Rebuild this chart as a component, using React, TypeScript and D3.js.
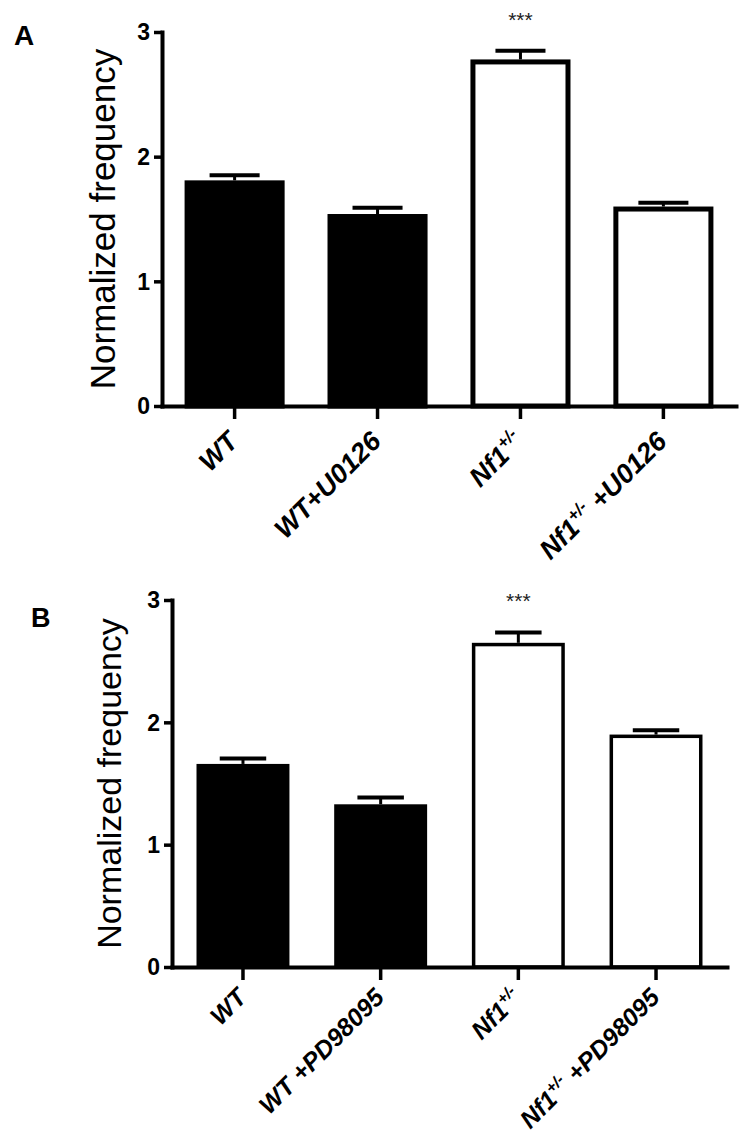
import React, { useEffect, useRef } from 'react'
import * as d3 from 'd3'

// panel A: U0126
const groupsA = ['WT', 'WT+U0126', 'Nf1+/-', 'Nf1+/- +U0126']
const meansA = [1.81, 1.54, 2.78, 1.60]
const semA = [0.04, 0.05, 0.07, 0.03]

// panel B: PD98095
const groupsB = ['WT', 'WT +PD98095', 'Nf1+/-', 'Nf1+/- +PD98095']
const meansB = [1.66, 1.33, 2.65, 1.90]
const semB = [0.045, 0.055, 0.085, 0.035]

const filled = [true, true, false, false]
const stars = ['', '', '***', '']
const yTicks = [0, 1, 2, 3]

const FONT = 'Arial, "Liberation Sans", Helvetica, sans-serif'

type Panel = {
  letter: string
  letterX: number
  letterY: number
  letterSize: number
  groups: string[]
  means: number[]
  sem: number[]
  left: number
  right: number
  top: number
  bottom: number
  padIn: number
  padOut: number
  outline: number
  titleX: number
  titleSize: number
  labelSize: number
  labelDy: number
}

function drawPanel(svg: any, p: Panel) {
  const g = svg.append('g')
  const x = d3.scaleBand().domain(p.groups).range([p.left, p.right]).paddingInner(p.padIn).paddingOuter(p.padOut)
  const y = d3.scaleLinear().domain([0, 3]).range([p.bottom, p.top])
  const bw = x.bandwidth()
  const rows = p.groups.map((k, i) => ({ k, v: p.means[i], e: p.sem[i], fill: filled[i], star: stars[i] }))

  // error bars (upper half only)
  const eb = g.selectAll('.eb').data(rows).enter().append('g')
  eb.append('line')
    .attr('x1', (d: any) => x(d.k)! + bw / 2)
    .attr('x2', (d: any) => x(d.k)! + bw / 2)
    .attr('y1', (d: any) => y(d.v))
    .attr('y2', (d: any) => y(d.v + d.e))
    .attr('stroke', '#000').attr('stroke-width', 3)
  eb.append('line')
    .attr('x1', (d: any) => x(d.k)! + bw / 4)
    .attr('x2', (d: any) => x(d.k)! + bw * 0.75)
    .attr('y1', (d: any) => y(d.v + d.e))
    .attr('y2', (d: any) => y(d.v + d.e))
    .attr('stroke', '#000').attr('stroke-width', 4)

  // bars, outer edge at value
  const sw = p.outline
  g.selectAll('.bar').data(rows).enter().append('rect')
    .attr('x', (d: any) => x(d.k)! + sw / 2)
    .attr('width', bw - sw)
    .attr('y', (d: any) => y(d.v) + sw / 2)
    .attr('height', (d: any) => y(0) - y(d.v) - sw / 2)
    .attr('fill', (d: any) => (d.fill ? '#000' : '#fff'))
    .attr('stroke', '#000')
    .attr('stroke-width', sw)

  // significance
  g.selectAll('.star').data(rows.filter(d => d.star)).enter().append('text')
    .attr('x', (d: any) => x(d.k)! + bw / 2)
    .attr('y', (d: any) => y(d.v + d.e) - 24)
    .attr('text-anchor', 'middle')
    .attr('font-family', FONT)
    .attr('font-size', 21)
    .attr('fill', '#222')
    .text((d: any) => d.star)

  // y axis
  const ya = g.append('g').attr('transform', `translate(${p.left},0)`)
    .call(d3.axisLeft(y).tickValues(yTicks).tickSize(8).tickSizeOuter(0).tickFormat(() => ''))
  ya.select('.domain').attr('stroke-width', 4).attr('stroke-linecap', 'square')
  ya.selectAll('.tick line').attr('stroke-width', 3.5)
  g.selectAll('.ytl').data(yTicks).enter().append('text')
    .attr('x', p.left - 12)
    .attr('y', (d: number) => y(d))
    .attr('dy', '0.36em')
    .attr('text-anchor', 'end')
    .attr('font-family', FONT)
    .attr('font-size', 23)
    .attr('font-weight', 'bold')
    .text((d: number) => String(d))

  // x axis
  const xa = g.append('g').attr('transform', `translate(0,${p.bottom})`)
    .call(d3.axisBottom(x).tickSize(13).tickSizeOuter(0))
  xa.select('.domain').attr('stroke-width', 4).attr('stroke-linecap', 'square')
  xa.selectAll('.tick line').attr('stroke-width', 3.5)
  xa.selectAll('.tick text').remove()

  // rotated category labels with superscript
  p.groups.forEach(k => {
    const cx = x(k)! + bw / 2 + 5
    const cy = p.bottom + p.labelDy
    const t = g.append('text')
      .attr('transform', `translate(${cx},${cy}) rotate(-45)`)
      .attr('text-anchor', 'end')
      .attr('font-family', FONT)
      .attr('font-size', p.labelSize)
      .attr('font-weight', 'bold')
      .attr('font-style', 'italic')
    const idx = k.indexOf('+/-')
    if (idx < 0) {
      t.text(k)
    } else {
      t.append('tspan').text(k.slice(0, idx))
      t.append('tspan').attr('font-size', p.labelSize * 0.63).attr('dy', -p.labelSize * 0.4).text('+/-')
      const rest = k.slice(idx + 3)
      if (rest) t.append('tspan').attr('dy', p.labelSize * 0.4).text(' ' + rest.trim())
    }
  })

  // axis title
  g.append('text')
    .attr('transform', `translate(${p.titleX},${(p.top + p.bottom) / 2}) rotate(-90)`)
    .attr('text-anchor', 'middle')
    .attr('font-family', FONT)
    .attr('font-size', p.titleSize)
    .text('Normalized frequency')

  // panel letter
  g.append('text')
    .attr('x', p.letterX).attr('y', p.letterY)
    .attr('font-family', FONT)
    .attr('font-size', p.letterSize)
    .attr('font-weight', 'bold')
    .text(p.letter)
}

export default function App() {
  const ref = useRef<SVGSVGElement>(null)

  useEffect(() => {
    const svg = d3.select(ref.current)
    svg.selectAll('*').remove()
    drawPanel(svg, {
      letter: 'A', letterX: 14, letterY: 45, letterSize: 28,
      groups: groupsA, means: meansA, sem: semA,
      left: 162, right: 736, top: 32, bottom: 406,
      padIn: 0.3, padOut: 0.158, outline: 5,
      titleX: 115, titleSize: 35, labelSize: 27, labelDy: 37,
    })
    drawPanel(svg, {
      letter: 'B', letterX: 31, letterY: 627, letterSize: 27,
      groups: groupsB, means: meansB, sem: semB,
      left: 172, right: 727, top: 600, bottom: 967,
      padIn: 0.325, padOut: 0.178, outline: 3.5,
      titleX: 121, titleSize: 34, labelSize: 25, labelDy: 32,
    })
  }, [])

  return (
    <svg ref={ref} width={750} height={1146}
      style={{ position: 'absolute', left: 0, top: 0, background: '#fff' }} />
  )
}
